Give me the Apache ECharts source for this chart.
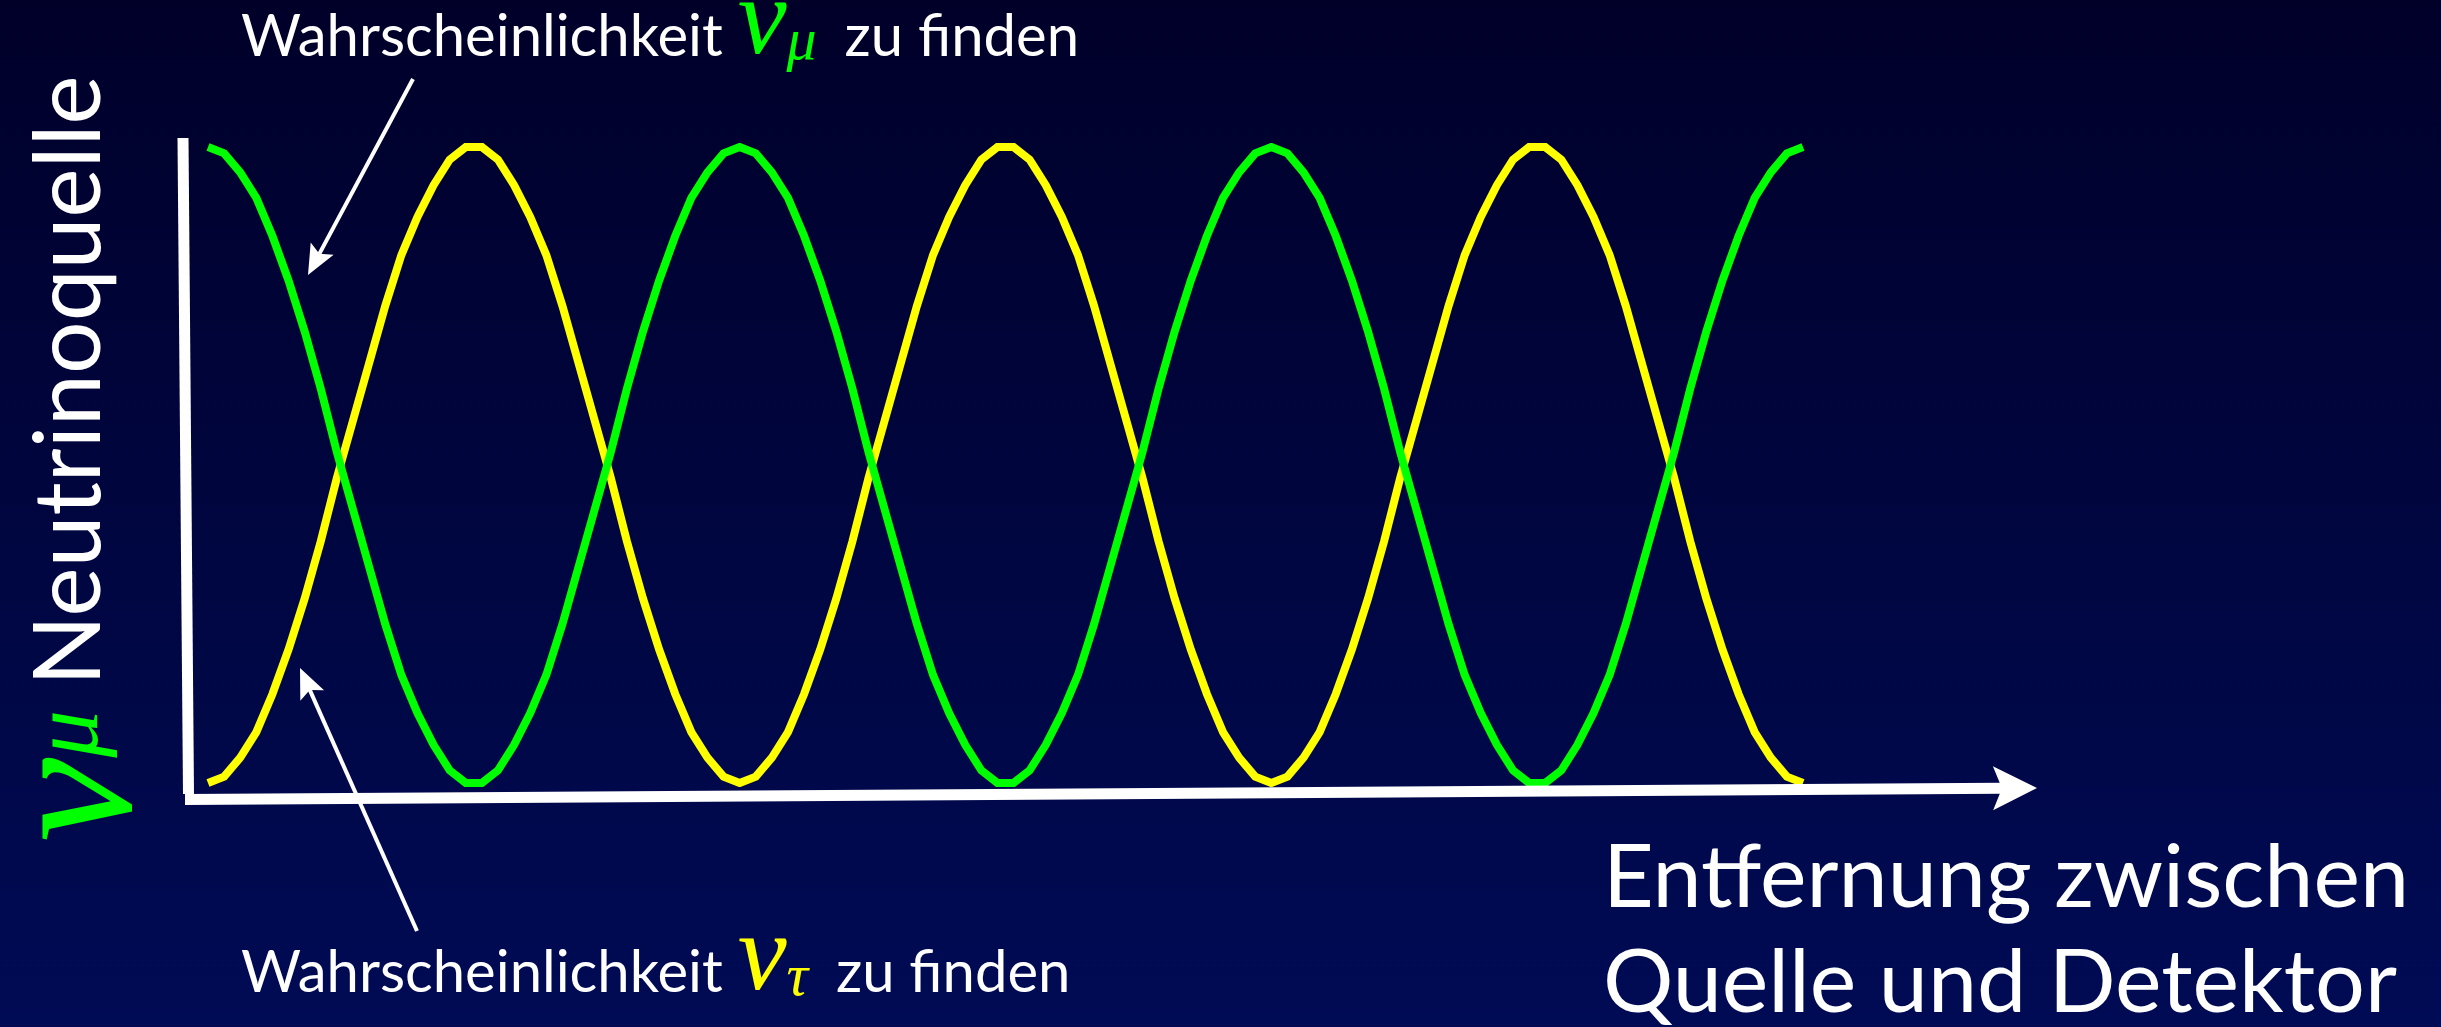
<!DOCTYPE html>
<html>
<head>
<meta charset="utf-8">
<script src="https://cdn.jsdelivr.net/npm/echarts@6/dist/echarts.min.js"></script>
<style>
  html, body { margin: 0; padding: 0; background: #000; }
  #chart { width: 2441px; height: 1027px; }
</style>
</head>
<body>
<div id="chart"></div>
<script>
'use strict';

// probability of still finding nu_mu at each sample along the way (green curve)
var pMu = [
  1, 0.99, 0.96, 0.92, 0.86, 0.79, 0.71, 0.62, 0.52, 0.43, 0.34, 0.25, 0.17, 0.11, 0.06, 0.02, 0.00,
  0.00, 0.02, 0.06, 0.11, 0.17, 0.25, 0.34, 0.43, 0.52, 0.62, 0.71, 0.79, 0.86, 0.92, 0.96, 0.99,
  1, 0.99, 0.96, 0.92, 0.86, 0.79, 0.71, 0.62, 0.52, 0.43, 0.34, 0.25, 0.17, 0.11, 0.06, 0.02, 0.00,
  0.00, 0.02, 0.06, 0.11, 0.17, 0.25, 0.34, 0.43, 0.52, 0.62, 0.71, 0.79, 0.86, 0.92, 0.96, 0.99,
  1, 0.99, 0.96, 0.92, 0.86, 0.79, 0.71, 0.62, 0.52, 0.43, 0.34, 0.25, 0.17, 0.11, 0.06, 0.02, 0.00,
  0.00, 0.02, 0.06, 0.11, 0.17, 0.25, 0.34, 0.43, 0.52, 0.62, 0.71, 0.79, 0.86, 0.92, 0.96, 0.99,
  1
];

// probability of finding nu_tau (yellow curve)
var pTau = [
  0, 0.01, 0.04, 0.08, 0.14, 0.21, 0.29, 0.38, 0.48, 0.57, 0.66, 0.75, 0.83, 0.89, 0.94, 0.98, 1.00,
  1.00, 0.98, 0.94, 0.89, 0.83, 0.75, 0.66, 0.57, 0.48, 0.38, 0.29, 0.21, 0.14, 0.08, 0.04, 0.01,
  0, 0.01, 0.04, 0.08, 0.14, 0.21, 0.29, 0.38, 0.48, 0.57, 0.66, 0.75, 0.83, 0.89, 0.94, 0.98, 1.00,
  1.00, 0.98, 0.94, 0.89, 0.83, 0.75, 0.66, 0.57, 0.48, 0.38, 0.29, 0.21, 0.14, 0.08, 0.04, 0.01,
  0, 0.01, 0.04, 0.08, 0.14, 0.21, 0.29, 0.38, 0.48, 0.57, 0.66, 0.75, 0.83, 0.89, 0.94, 0.98, 1.00,
  1.00, 0.98, 0.94, 0.89, 0.83, 0.75, 0.66, 0.57, 0.48, 0.38, 0.29, 0.21, 0.14, 0.08, 0.04, 0.01,
  0
];

var labelTop = ['Wahrscheinlichkeit ', 'ν', 'μ', 'zu finden'];
var labelBottom = ['Wahrscheinlichkeit ', 'ν', 'τ', 'zu finden'];
var yTitle = ['ν', 'μ', 'Neutrinoquelle'];
var xTitle = 'Entfernung zwischen\nQuelle und Detektor';

var GREEN = '#00ff00';
var YELLOW = '#ffff00';
var SANS = 'Lato';
var SERIF = 'Liberation Serif';

//white arrow = shaft + notched head
function arrow(x1, y1, x2, y2, w, len, half, notch) {
  var dx = x2 - x1, dy = y2 - y1;
  var d = Math.sqrt(dx * dx + dy * dy);
  var ux = dx / d, uy = dy / d, nx = -uy, ny = ux;
  var bx = x2 - ux * len, by = y2 - uy * len;
  var mx = x2 - ux * (len - notch), my = y2 - uy * (len - notch);
  return [
    {
      type: 'line', z: 5,
      shape: { x1: x1, y1: y1, x2: mx, y2: my },
      style: { stroke: '#fff', lineWidth: w }
    },
    {
      type: 'polygon', z: 5,
      shape: { points: [[x2, y2], [bx + nx * half, by + ny * half], [mx, my], [bx - nx * half, by - ny * half]] },
      style: { fill: '#fff' }
    }
  ];
}

//"Wahrscheinlichkeit nu_x zu finden"
function probLabel(parts, color, x, y) {
  return {
    type: 'text', z: 5, x: x, y: y,
    style: {
      text: '{t|' + parts[0] + '}{nu|' + parts[1] + '}{sub|' + parts[2] + '}{t|' + parts[3] + '}',
      align: 'left', verticalAlign: 'top',
      rich: {
        t: { fontFamily: SANS, fontSize: 58, fill: '#fff', verticalAlign: 'top', padding: [39, 0, 0, 0] },
        nu: { fontFamily: SERIF, fontStyle: 'italic', fontSize: 110, fill: color, verticalAlign: 'top', padding: [0, 0, 0, 0] },
        sub: { fontFamily: SERIF, fontStyle: 'italic', fontSize: 60, fill: color, verticalAlign: 'top', padding: [44, 28, 0, 0] }
      }
    }
  };
}

var chart = echarts.init(document.getElementById('chart'));

var graphics = [];
//y axis
graphics.push({
  type: 'line', z: 5,
  shape: { x1: 183, y1: 138, x2: 188.5, y2: 794 },
  style: { stroke: '#fff', lineWidth: 11 }
});
//x axis with arrow
graphics = graphics.concat(arrow(185, 799.5, 2037, 788, 11, 44, 22, 9));
//annotation arrows
graphics = graphics.concat(arrow(413, 79, 308, 275, 4, 30, 13, 6));
graphics = graphics.concat(arrow(417, 931, 300, 668, 4, 30, 13, 6));

graphics.push(probLabel(labelTop, GREEN, 241, -31));
graphics.push(probLabel(labelBottom, YELLOW, 241, 905));

//rotated y title
graphics.push({
  type: 'text', z: 5, x: -45, y: 842, rotation: Math.PI / 2,
  style: {
    text: '{nu|' + yTitle[0] + '}{sub|' + yTitle[1] + '}{t|' + yTitle[2] + '}',
    align: 'left', verticalAlign: 'top',
    rich: {
      nu: { fontFamily: SERIF, fontStyle: 'italic', fontSize: 190, fill: GREEN, verticalAlign: 'top', padding: [30, 0, 0, 0] },
      sub: { fontFamily: SERIF, fontStyle: 'italic', fontSize: 95, fill: GREEN, verticalAlign: 'top', padding: [70, 24, 0, 0] },
      t: { fontFamily: SANS, fontSize: 93, fill: '#fff', verticalAlign: 'top', padding: [68, 0, 0, 0] }
    }
  }
});

//x title
graphics.push({
  type: 'text', z: 5, x: 1603, y: 826,
  style: {
    text: xTitle,
    align: 'left', verticalAlign: 'top',
    fontFamily: SANS, fontSize: 88, lineHeight: 105, fill: '#fff'
  }
});

var option = {
  backgroundColor: {
    type: 'linear', x: 0, y: 0, x2: 0, y2: 1,
    colorStops: [
      { offset: 0, color: '#000029' },
      { offset: 1, color: '#000b55' }
    ]
  },
  animation: false,
  grid: { left: 208, right: 638, top: 147, bottom: 244 },
  xAxis: { type: 'value', min: 0, max: pMu.length - 1, show: false },
  yAxis: { type: 'value', min: 0, max: 1, show: false },
  graphic: graphics,
  series: [
    {
      name: 'nu_tau',
      type: 'line',
      showSymbol: false,
      data: pTau.map(function(v, i) { return [i, v]; }),
      lineStyle: { color: YELLOW, width: 8, join: 'miter' }
    },
    {
      name: 'nu_mu',
      type: 'line',
      showSymbol: false,
      data: pMu.map(function(v, i) { return [i, v]; }),
      lineStyle: { color: GREEN, width: 8, join: 'miter' }
    }
  ]
};

chart.setOption(option);
</script>
</body>
</html>
